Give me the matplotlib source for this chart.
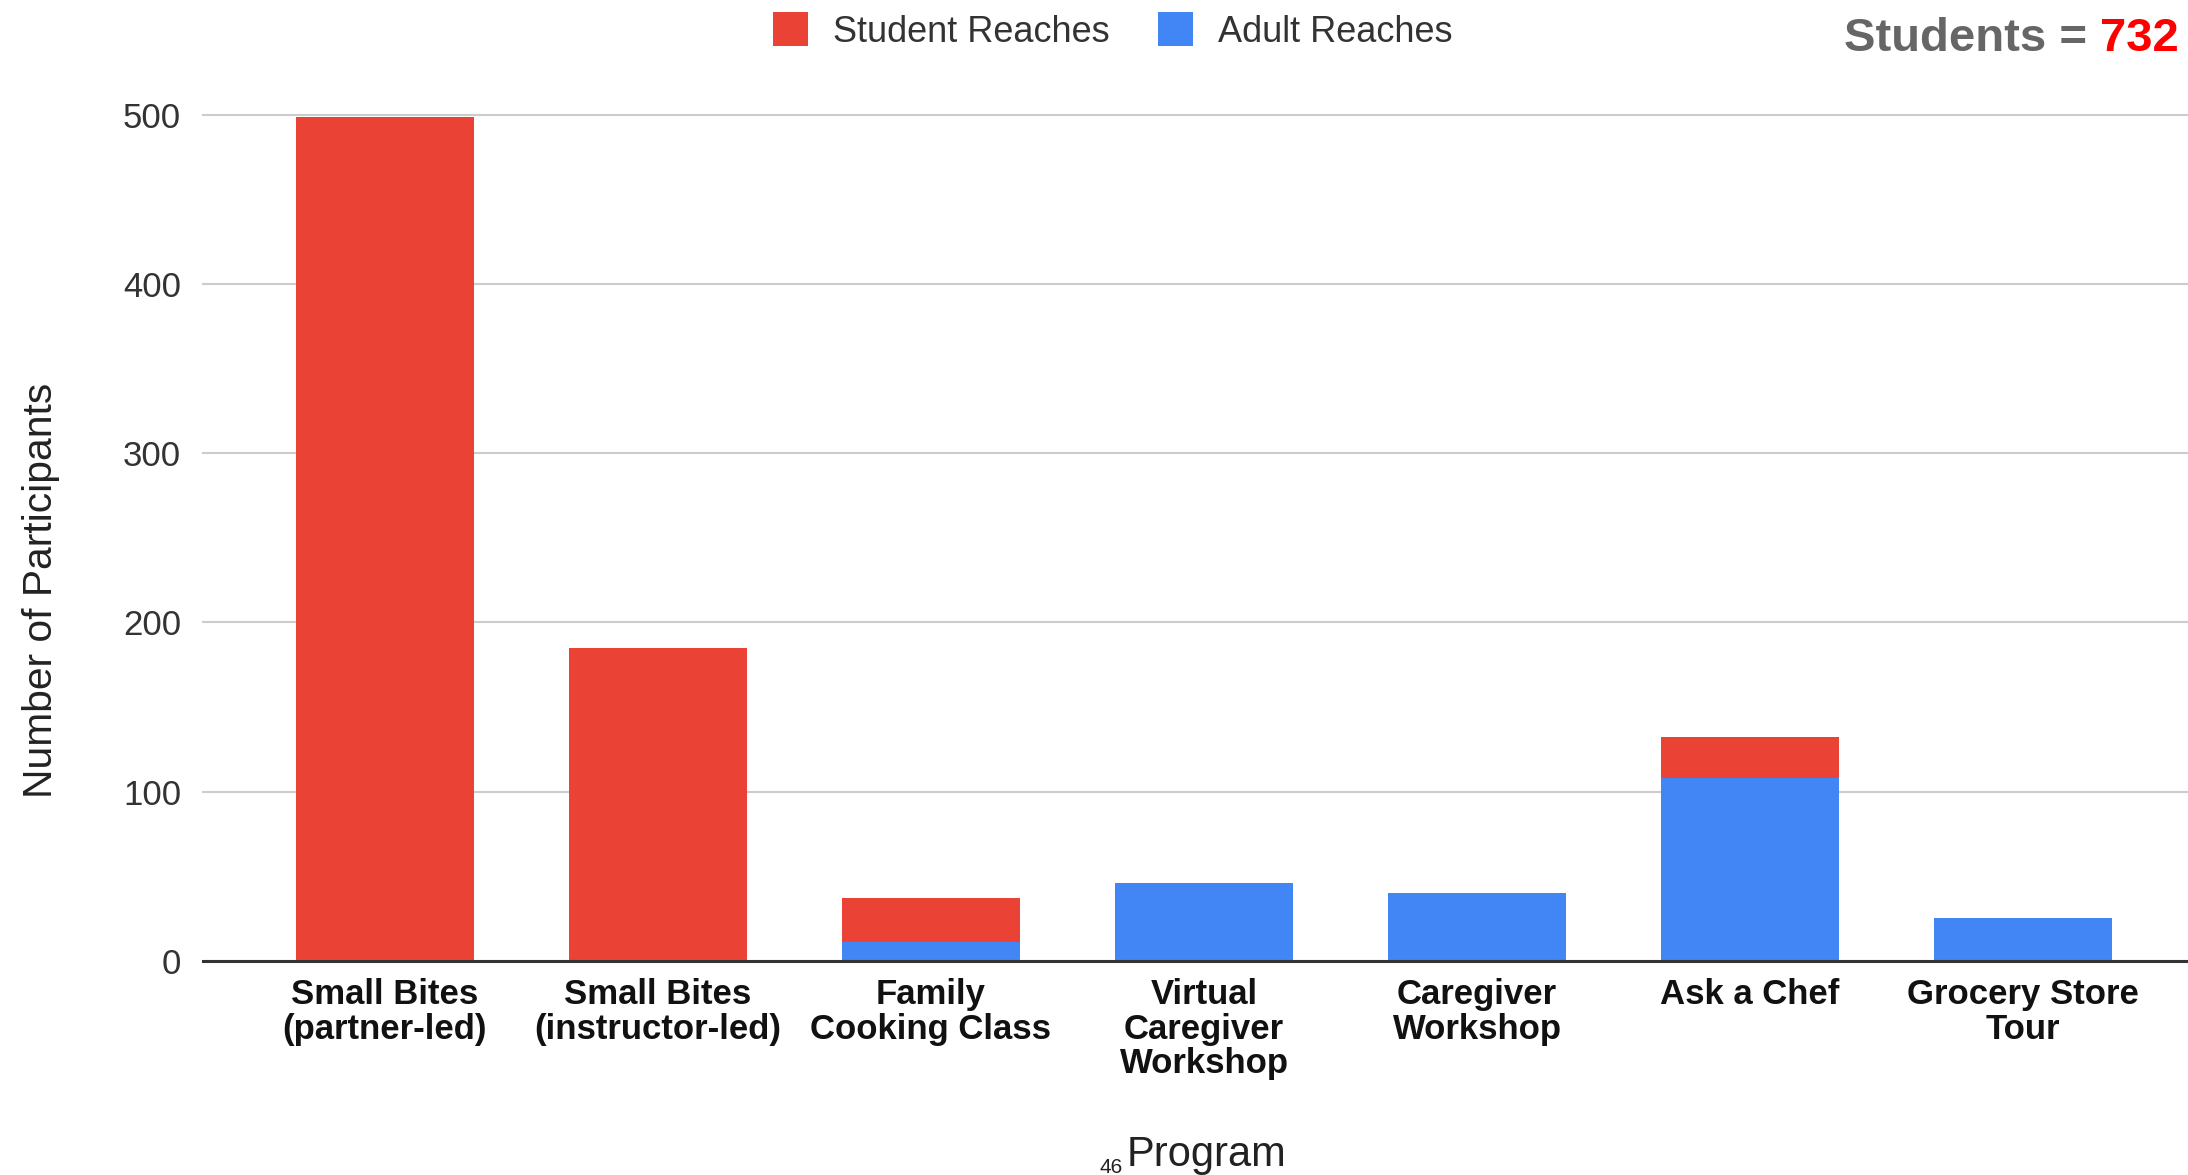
import matplotlib
matplotlib.use("Agg")
import matplotlib.pyplot as plt
from matplotlib.patches import Patch

# Program reach data
programs = [
    "Small Bites\n(partner-led)",
    "Small Bites\n(instructor-led)",
    "Family\nCooking Class",
    "Virtual\nCaregiver\nWorkshop",
    "Caregiver\nWorkshop",
    "Ask a Chef",
    "Grocery Store\nTour",
]
adult_reaches = [0, 0, 11, 46, 40, 108, 25]
student_reaches = [499, 185, 26, 0, 0, 24, 0]
y_ticks = [0, 100, 200, 300, 400, 500]
total_students = 732

RED = "#EA4335"
BLUE = "#4285F4"

plt.rcParams["font.family"] = ["Liberation Sans", "DejaVu Sans"]

W, H = 2188, 1175
fig = plt.figure(figsize=(W / 100, H / 100), dpi=100)

# axes placement in pixels
x_left = 202
y_zero = 960.7
px_per_unit = 1.6914
y_min, y_max = -3, 510
bottom_px = y_zero - y_min * px_per_unit
top_px = y_zero - y_max * px_per_unit
ax = fig.add_axes([x_left / W, 1 - bottom_px / H, 1 - x_left / W, (bottom_px - top_px) / H])

x = list(range(len(programs)))
bar_w = 0.65
ax.bar(x, adult_reaches, width=bar_w, color=BLUE, zorder=3, linewidth=0)
ax.bar(x, student_reaches, width=bar_w, bottom=adult_reaches, color=RED, zorder=3, linewidth=0)

ax.set_xlim(-0.67, 6.604)
ax.set_ylim(y_min, y_max)
ax.set_yticks(y_ticks)
ax.set_yticklabels([str(v) for v in y_ticks], fontsize=25, color="#333333")
ax.set_xticks(x)
ax.set_xticklabels(programs, fontsize=25, fontweight="bold", color="#111111", linespacing=1.06)
ax.tick_params(axis="both", length=0)
ax.tick_params(axis="y", pad=15)
ax.tick_params(axis="x", pad=9)

ax.grid(axis="y", color="#cccccc", linewidth=1.5, zorder=0)
ax.axhline(0, color="#333333", linewidth=2.2, zorder=4)
for s in ax.spines.values():
    s.set_visible(False)

# axis titles
fig.text(41 / W, 1 - 590 / H, "Number of Participants", rotation=90,
         ha="center", va="center", fontsize=29.3, color="#222222")
fig.text(1207 / W, 1 - 1155 / H, "Program", ha="center", va="center",
         fontsize=30, color="#222222")
fig.text(1100 / W, 1 - 1158 / H, "46", ha="left", va="top", fontsize=15, color="#222222")

# legend
handles = [Patch(facecolor=RED, edgecolor="none", label="Student Reaches"),
           Patch(facecolor=BLUE, edgecolor="none", label="Adult Reaches")]
fig.legend(handles=handles, loc="center", bbox_to_anchor=(1113 / W, 1 - 31 / H),
           ncol=2, frameon=False, fontsize=26, handlelength=0.95, handleheight=1.05,
           handletextpad=0.7, columnspacing=1.35, labelcolor="#333333")

# total students annotation
num = fig.text(2179 / W, 1 - 39 / H, str(total_students), ha="right", va="center",
               fontsize=34, fontweight="bold", color="#FF0000")
fig.canvas.draw()
bb = num.get_window_extent()
fig.text(bb.x0 / W, 1 - 39 / H, "Students = ", ha="right", va="center",
         fontsize=34, fontweight="bold", color="#666666")

fig.savefig("out.png", dpi=100)
